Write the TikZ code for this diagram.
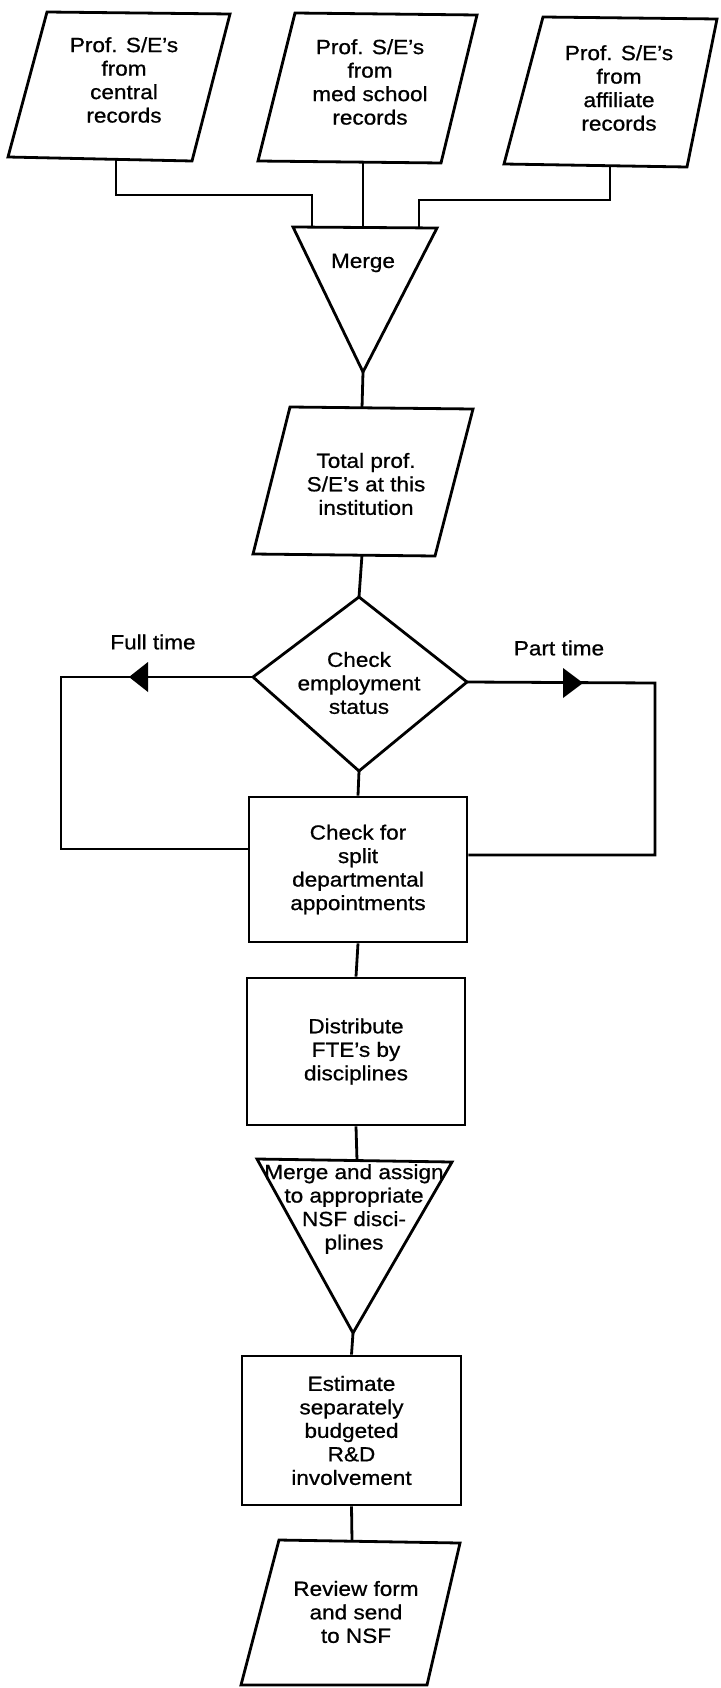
\documentclass[tikz,border=0pt]{standalone}
\usepackage{fontspec}
\setmainfont{Liberation Sans}[FakeStretch=1.1,FakeBold=0.8]
\begin{document}
\begin{tikzpicture}[x=1pt,y=-1pt,line width=2.8pt,line join=miter,
  lbl/.style={inner sep=0pt,align=center,font=\fontsize{20.5}{23.5}\selectfont},
  rbox/.style={draw,line width=2.8pt,inner sep=0pt,align=center,font=\fontsize{20.5}{23.5}\selectfont},
  outl/.style={draw,line width=2.8pt},
  conn/.style={draw,line width=2.8pt},
  head/.style={fill=black,draw=none}]
\useasboundingbox (0,0) rectangle (720,1688);

% ---- input boxes (parallelograms)
\draw[outl] (47,12) -- (230,14) -- (192,161) -- (8,157) -- cycle;
\node[lbl] (b1) at (124,80) {Prof. S/E’s\\from\\central\\records};
\draw[outl] (295,13) -- (477,15) -- (441,163) -- (258,161) -- cycle;
\node[lbl] (b2) at (370,82) {Prof. S/E’s\\from\\med school\\records};
\draw[outl] (543,17) -- (717,19) -- (687,167) -- (504,164) -- cycle;
\node[lbl] (b3) at (619,88) {Prof. S/E’s\\from\\affiliate\\records};

\coordinate (b1out) at (116,159);
\coordinate (b2out) at (363,162);
\coordinate (b3out) at (610,166);

% ---- merge triangle
\draw[outl] (293,227) -- (437,228) -- (363,372) -- cycle;
\node[lbl] (mg) at (363,263) {Merge};
\coordinate (min1) at (312,227);
\coordinate (min2) at (363,227.5);
\coordinate (min3) at (419,228);
\coordinate (mout) at (363,372);

\draw[conn] (b1out) -- ++(0,36) -| (min1);
\draw[conn] (b2out) -- (min2);
\draw[conn] (b3out) -- ++(0,34) -| (min3);

% ---- total box
\draw[outl] (290,407) -- (473,409) -- (435,556) -- (253,554) -- cycle;
\node[lbl] (tot) at (366,484) {Total prof.\\S/E’s at this\\institution};
\coordinate (totin) at (362,408);
\coordinate (totout) at (362,555);
\draw[conn] (mout) -- (totin);

% ---- decision diamond
\coordinate (dt) at (359,597);
\coordinate (dr) at (467,682);
\coordinate (db) at (359,771);
\coordinate (dl) at (253,677);
\draw[outl] (dt) -- (dr) -- (db) -- (dl) -- cycle;
\node[lbl] (dia) at (359,683) {Check\\employment\\status};
\draw[conn] (totout) -- (dt);

% ---- check box
\node[rbox,minimum width=218pt,minimum height=145pt] (chk) at (358,869.5)
  {Check for\\split\\departmental\\appointments};
\draw[conn] (db) -- (chk.north);

% full time loop
\draw[conn] (dl) -- (61,677) -- (61,849) -- ([yshift=20.5pt]chk.west);
\fill[head] (129,677) -- (148,662) -- (148,692) -- cycle;
\node[lbl] (ft) at (153,642) {Full time};

% part time loop
\draw[conn] (dr) -- (655,683) -- (655,855) -- ([yshift=14.5pt]chk.east);
\fill[head] (583,683) -- (563,668) -- (563,698) -- cycle;
\node[lbl] (pt) at (559,648) {Part time};

% ---- distribute box
\node[rbox,minimum width=218pt,minimum height=147pt] (dst) at (356,1051.5)
  {Distribute\\FTE’s by\\disciplines};
\draw[conn] (chk.south) -- (dst.north);

% ---- merge and assign triangle
\draw[outl] (257,1159) -- (452,1162) -- (353,1333) -- cycle;
\node[lbl] (ma) at (354,1209) {Merge and assign\\to appropriate\\NSF disci-\\plines};
\coordinate (main) at (357,1160.5);
\coordinate (maout) at (353,1333);
\draw[conn] (dst.south) -- (main);

% ---- estimate box
\node[rbox,minimum width=219pt,minimum height=149pt] (est) at (351.5,1430.5)
  {Estimate\\separately\\budgeted\\R\&D\\involvement};
\draw[conn] (maout) -- (est.north);

% ---- review parallelogram
\draw[outl] (279,1540) -- (460,1543) -- (427,1685) -- (241,1685) -- cycle;
\node[lbl] (rev) at (356,1612) {Review form\\and send\\to NSF};
\coordinate (revin) at (352,1541);
\draw[conn] (est.south) -- (revin);
\end{tikzpicture}
\end{document}
